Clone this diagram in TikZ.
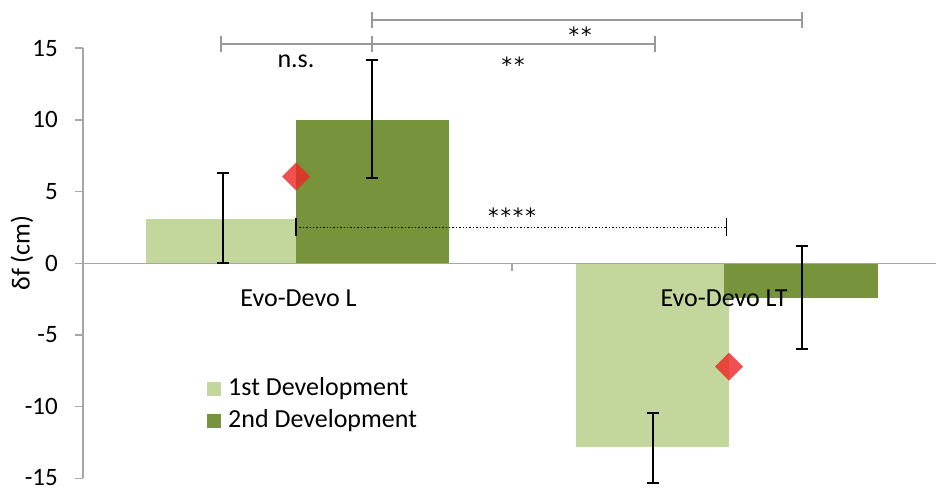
\documentclass[tikz,border=0pt]{standalone}
\usepackage{fontspec}
\setmainfont{Carlito}
\newfontfamily\starfont{DejaVu Sans}
\begin{document}
\begin{tikzpicture}[x=1pt,y=-1pt,
  lbl/.style={font=\fontsize{26}{30}\selectfont, inner sep=0pt},
  starlbl/.style={font=\starfont\fontsize{21}{25}\selectfont, inner sep=0pt, anchor=base},
  ticklbl/.style={font=\fontsize{25}{29}\selectfont, inner sep=0pt, anchor=east},
  axisline/.style={draw=black!35, line width=1.6pt},
  errbar/.style={draw=black, line width=1.8pt},
  sigline/.style={draw=black!40, line width=1.8pt},
  barA/.style={fill=lightgreen, draw=none},
  barB/.style={fill=darkgreen, draw=none},
  marker/.style={fill=markred, fill opacity=0.8, draw=none}]
\definecolor{lightgreen}{RGB}{195,214,155}
\definecolor{darkgreen}{RGB}{119,147,60}
\definecolor{markred}{RGB}{238,36,36}
\useasboundingbox (0,0) rectangle (936,487);

% bars
\fill[barA] (146,263.3) rectangle (296,218.9);
\fill[barB] (296,263.3) rectangle (449,120);
\fill[barA] (576,263.3) rectangle (729,446.8);
\fill[barB] (724,263.3) rectangle (878,297.7);

% axes
\coordinate (yaxtop) at (83,48.3);
\coordinate (yaxbot) at (83,478.3);
\coordinate (xaxL) at (83,263.3);
\coordinate (xaxR) at (936,263.3);
\draw[axisline] (yaxtop) -- (yaxbot);
\draw[axisline] (xaxL) -- (xaxR);
\draw[axisline] (512,263.3) -- (512,271);
\foreach \v/\py in {15/48.3,10/120,5/191.6,0/263.3,-5/335,-10/406.6,-15/478.3}{
  \draw[axisline] (75,\py) -- (83,\py);
}
\foreach \v/\py in {15/48.3,10/119.5,5/191.6,0/263.3,-5/335,-10/406.6,-15/477.5}{
  \node[ticklbl] at (58,\py) {\v};
}
\node[lbl, rotate=90] (ylab) at (22,253) {δf (cm)};

% category labels
\node[lbl, anchor=base] (catL) at (298.5,306) {Evo-Devo L};
\node[lbl, anchor=base] (catLT) at (724,306) {Evo-Devo LT};

% error bars
\foreach \x/\a/\b in {223.3/172.7/263.3, 372/60/178, 652.7/412.7/483, 801.7/246/349}{
  \draw[errbar] (\x,\a) -- (\x,\b);
  \draw[errbar] (\x-6,\a) -- (\x+6,\a);
  \draw[errbar] (\x-6,\b) -- (\x+6,\b);
}

% mean markers
\fill[marker] (296,162.5) -- (310,176.5) -- (296,190.5) -- (282,176.5) -- cycle;
\fill[marker] (729,352.7) -- (743,366.7) -- (729,380.7) -- (715,366.7) -- cycle;

% significance brackets
\coordinate (s1a) at (221,44);
\coordinate (s1b) at (372,44);
\coordinate (s2b) at (655,44);
\coordinate (s3a) at (372,20);
\coordinate (s3b) at (802,20);
\draw[sigline] (s1a) -- (s1b) -- (s2b);
\draw[sigline] (s3a) -- (s3b);
\foreach \c in {s1a,s1b,s2b,s3a,s3b}{
  \draw[sigline] ([yshift=-8pt]\c) -- ([yshift=8pt]\c);
}
\node[lbl, anchor=base] (ns) at (296,67) {n.s.};
\node[starlbl] (st2) at (513,73) {*\kern2pt*};
\node[starlbl] (st3) at (580,43) {*\kern2pt*};

% dotted comparison
\coordinate (d1) at (296,227.3);
\coordinate (d2) at (726.5,227.3);
\draw[black, line width=1.4pt, dotted] (d1) -- (d2);
\draw[black, line width=1.6pt] ([yshift=-9pt]d1) -- ([yshift=9pt]d1);
\draw[black, line width=1.6pt] ([yshift=-9pt]d2) -- ([yshift=9pt]d2);
\node[starlbl] (st4) at (512,223) {*\kern2pt*\kern2pt*\kern2pt*};

% legend
\fill[lightgreen] (207,382) rectangle (221,396);
\fill[darkgreen] (207,414) rectangle (221,428);
\node[lbl, anchor=west] (leg1) at (228,389) {1st Development};
\node[lbl, anchor=west] (leg2) at (228,421) {2nd Development};
\end{tikzpicture}
\end{document}
